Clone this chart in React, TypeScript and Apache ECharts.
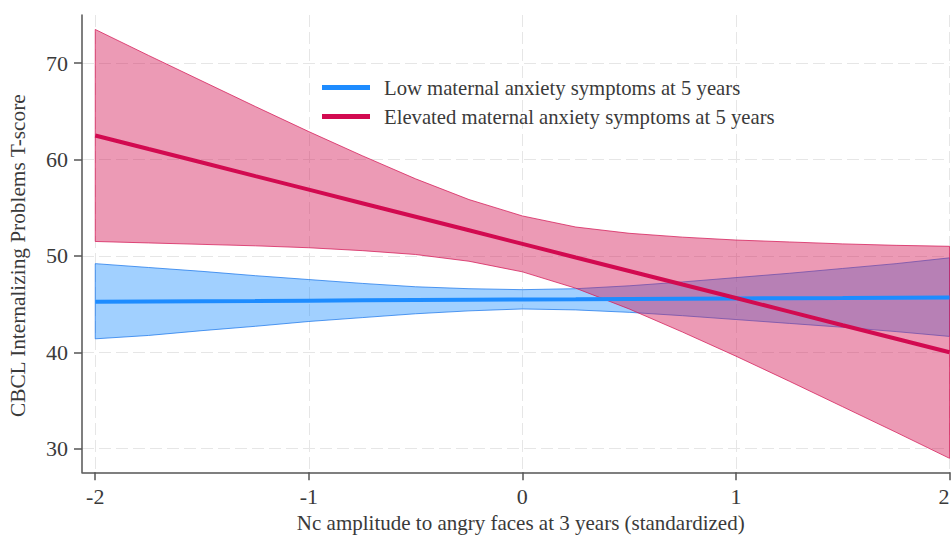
import React, { useEffect, useRef } from "react";
import * as echarts from "echarts";

const xs = [-2, -1.75, -1.5, -1.25, -1, -0.75, -0.5, -0.25, 0, 0.25, 0.5, 0.75, 1, 1.25, 1.5, 1.75, 2];

const lowFit = [45.25, 45.28, 45.31, 45.33, 45.36, 45.39, 45.42, 45.45, 45.48, 45.5, 45.53, 45.56, 45.59, 45.62, 45.64, 45.67, 45.7];
const lowUpper = [49.2, 48.8, 48.4, 47.95, 47.55, 47.15, 46.8, 46.6, 46.5, 46.6, 46.9, 47.3, 47.75, 48.2, 48.7, 49.2, 49.8];
const lowLower = [41.4, 41.75, 42.25, 42.7, 43.2, 43.6, 44.0, 44.3, 44.5, 44.4, 44.15, 43.8, 43.4, 43.0, 42.6, 42.15, 41.65];

const elevFit = [62.5, 61.09, 59.69, 58.28, 56.88, 55.47, 54.06, 52.66, 51.25, 49.84, 48.44, 47.03, 45.63, 44.22, 42.81, 41.41, 40.0];
const elevUpper = [73.5, 70.8, 68.15, 65.5, 62.9, 60.4, 58.0, 55.85, 54.15, 53.0, 52.35, 51.95, 51.65, 51.45, 51.25, 51.1, 51.0];
const elevLower = [51.5, 51.35, 51.2, 51.05, 50.85, 50.55, 50.15, 49.45, 48.35, 46.65, 44.5, 42.1, 39.6, 37.0, 34.35, 31.7, 29.0];

const xTicks = [-2, -1, 0, 1, 2];
const yTicks = [30, 40, 50, 60, 70];

const lowName = "Low maternal anxiety symptoms at 5 years";
const elevName = "Elevated maternal anxiety symptoms at 5 years";
const xTitle = "Nc amplitude to angry faces at 3 years (standardized)";
const yTitle = "CBCL Internalizing Problems T-score";

const FONT = "Liberation Serif, Times New Roman, serif";

function bandSeries(name: string, lower: number[], upper: number[], fill: string, stroke: string) {
  return {
    type: "custom",
    name,
    data: xs.map((x, i) => [x, lower[i], upper[i]]),
    encode: { x: 0, y: [1, 2] },
    silent: true,
    renderItem: (params: any, api: any) => {
      if (params.dataIndex !== 0) return null;
      const pts: number[][] = [];
      for (let i = 0; i < xs.length; i++) pts.push(api.coord([xs[i], upper[i]]));
      for (let i = xs.length - 1; i >= 0; i--) pts.push(api.coord([xs[i], lower[i]]));
      return {
        type: "polygon",
        shape: { points: pts },
        style: { fill, stroke, lineWidth: 1 },
      };
    },
  };
}

export default function App() {
  const ref = useRef<HTMLDivElement>(null);
  useEffect(() => {
    if (!ref.current) return;
    const chart = echarts.init(ref.current, null, { renderer: "svg" });
    const axisColor = "#555555";
    const textColor = "#3a3a3a";
    chart.setOption({
      animation: false,
      backgroundColor: "#ffffff",
      grid: { left: 82, right: 1.5, top: 15, bottom: 62.7, containLabel: false, outerBoundsMode: "none" },
      legend: {
        data: [lowName, elevName],
        orient: "vertical",
        left: 317,
        top: 72,
        icon: "rect",
        itemWidth: 48,
        itemHeight: 5,
        itemGap: 8,
        textStyle: {
          fontFamily: FONT,
          fontSize: 20.7,
          color: textColor,
          lineHeight: 21,
          padding: [0, 0, 0, 9],
        },
      },
      xAxis: {
        type: "value",
        min: -2.062,
        max: 2,
        name: xTitle,
        nameLocation: "middle",
        nameGap: 38,
        nameTextStyle: { fontFamily: FONT, fontSize: 21, color: textColor, padding: [0, 0, 0, 10] },
        axisLine: { show: true, onZero: false, lineStyle: { color: axisColor, width: 1.5 } },
        axisTick: { show: true, length: 8, customValues: xTicks, lineStyle: { color: axisColor, width: 1.5 } },
        axisLabel: {
          customValues: xTicks,
          margin: 13,
          fontFamily: FONT,
          fontSize: 22,
          color: textColor,
          alignMaxLabel: "right",
        },
        splitLine: { show: true, lineStyle: { color: "#e6e6e6", width: 1, type: [12, 5] } },
      },
      yAxis: {
        type: "value",
        min: 27.55,
        max: 75,
        name: yTitle,
        nameLocation: "middle",
        nameGap: 54,
        nameRotate: 90,
        nameTextStyle: { fontFamily: FONT, fontSize: 21.3, color: textColor, padding: [0, 24, 0, 0] },
        axisLine: { show: true, onZero: false, lineStyle: { color: axisColor, width: 1.5 } },
        axisTick: { show: true, length: 8, customValues: yTicks, lineStyle: { color: axisColor, width: 1.5 } },
        axisLabel: { customValues: yTicks, margin: 14, fontFamily: FONT, fontSize: 22, color: textColor },
        splitLine: { show: true, lineStyle: { color: "#e6e6e6", width: 1, type: [12, 5] } },
      },
      series: [
        bandSeries("lowBand", lowLower, lowUpper, "rgba(30,144,255,0.42)", "rgba(30,120,235,0.75)"),
        bandSeries("elevBand", elevLower, elevUpper, "rgba(212,25,87,0.44)", "rgba(212,25,87,0.75)"),
        {
          type: "line",
          name: lowName,
          data: xs.map((x, i) => [x, lowFit[i]]),
          showSymbol: false,
          color: "#1E8CFF",
          lineStyle: { color: "#1E8CFF", width: 4 },
          z: 5,
        },
        {
          type: "line",
          name: elevName,
          data: xs.map((x, i) => [x, elevFit[i]]),
          showSymbol: false,
          color: "#D20A50",
          lineStyle: { color: "#D20A50", width: 4 },
          z: 6,
        },
      ],
    });
    return () => chart.dispose();
  }, []);
  return (
    <div
      ref={ref}
      style={{ position: "fixed", left: 0, top: 0, width: 951, height: 535 }}
    />
  );
}
